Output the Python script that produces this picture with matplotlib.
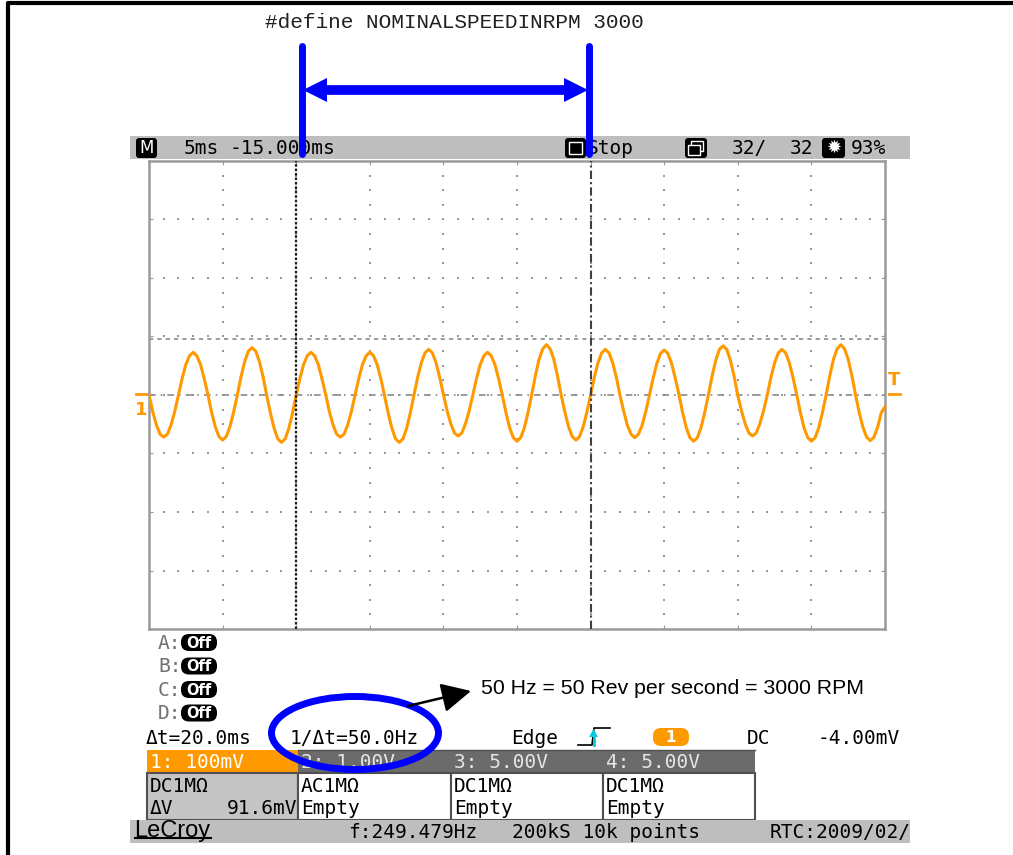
import matplotlib.pyplot as plt
import numpy as np
from matplotlib.patches import Rectangle, FancyBboxPatch, Ellipse, Polygon

# channel 1 trace in mV, one reading every 0.25 ms across the 50 ms screen
ch1_mv = [
    0, -28, -51, -67, -72, -67, -51, -28,
    0, 28, 52, 67, 73, 67, 52, 28,
    1, -29, -54, -71, -77, -71, -54, -29,
    0, 31, 57, 75, 81, 75, 57, 31,
    -1, -31, -57, -75, -81, -75, -57, -31,
    0, 28, 52, 67, 73, 67, 52, 28,
    1, -28, -51, -67, -72, -67, -51, -28,
    0, 28, 52, 67, 73, 67, 52, 28,
    -1, -31, -57, -75, -81, -75, -57, -31,
    0, 30, 55, 72, 78, 72, 55, 30,
    1, -27, -49, -65, -70, -65, -49, -27,
    0, 28, 52, 67, 73, 67, 52, 28,
    0, -30, -56, -73, -79, -73, -56, -30,
    1, 33, 61, 79, 86, 79, 61, 33,
    0, -29, -54, -71, -77, -71, -54, -29,
    0, 30, 55, 72, 78, 72, 55, 30,
    -1, -28, -52, -67, -73, -67, -52, -28,
    0, 29, 54, 71, 77, 71, 54, 29,
    1, -30, -56, -73, -79, -73, -56, -30,
    0, 32, 59, 78, 84, 78, 59, 32,
    -1, -27, -49, -65, -70, -65, -49, -27,
    0, 30, 55, 72, 78, 72, 55, 30,
    1, -30, -56, -73, -79, -73, -56, -30,
    0, 33, 61, 79, 86, 79, 61, 33,
    0, -30, -55, -72, -78, -72, -55, -30,
    -20,
]
t_ms = np.linspace(0, 50, len(ch1_mv))

cursor_t = [10, 30]      # ms
cursor_v = [0, 95]       # mV

ch_names = ['1: 100mV', '2: 1.00V', '3: 5.00V', '4: 5.00V']
ch_coupling = ['DC1MΩ', 'AC1MΩ', 'DC1MΩ', 'DC1MΩ']
ch_info = ['ΔV', 'Empty', 'Empty', 'Empty']
ch1_delta_v = '91.6mV'
math_slots = ['A', 'B', 'C', 'D']

title = '#define NOMINALSPEEDINRPM 3000'
note = '50 Hz = 50 Rev per second = 3000 RPM'

ORANGE = '#FF9900'
BLUE = '#0000FF'
BAR = '#BEBEBE'
DARK = '#6B6B6B'
MONO = 'DejaVu Sans Mono'

W, H = 1013, 855
fig = plt.figure(figsize=(W / 100, H / 100), dpi=100)
bg = fig.add_axes([0, 0, 1, 1])
bg.set_xlim(0, W)
bg.set_ylim(H, 0)
bg.axis('off')


def txt(x, y, s, size=14, color='black', ha='left', family=MONO, **kw):
    return bg.text(x, y, s, fontsize=size, color=color, ha=ha, va='center',
                   family=family, zorder=5, **kw)


def box(x0, y0, x1, y1, fc, ec='none', lw=0, z=2):
    r = Rectangle((x0, y0), x1 - x0, y1 - y0, fc=fc, ec=ec, lw=lw, zorder=z)
    bg.add_patch(r)
    return r


def pill(x0, y0, x1, y1, fc, r=6, z=3):
    bg.add_patch(FancyBboxPatch((x0, y0), x1 - x0, y1 - y0,
                                boxstyle=f'round,pad=0,rounding_size={r}',
                                fc=fc, ec='none', zorder=z))


# page frame (left and top only)
bg.plot([8, 8, W], [H, 3, 3], color='black', lw=3, zorder=1)

# header bar
box(130, 136, 910, 159, BAR)
pill(136, 138, 157, 158, 'black', r=3)
txt(146.5, 148, 'M', size=12, color='white', ha='center', family='DejaVu Sans')
txt(184, 148, '5ms')
txt(230, 148, '-15.000ms')
pill(565, 138, 586, 158, 'black', r=3)
box(569, 142, 582, 154, 'none', ec='white', lw=1, z=4)
txt(587, 148, 'Stop')
pill(685, 138, 707, 158, 'black', r=3)
box(691, 141, 703, 151, 'none', ec='white', lw=1, z=4)
box(688, 145, 700, 155, 'black', ec='white', lw=1, z=4)
txt(732, 148, '32/')
txt(813, 148, '32', ha='right')
pill(822, 138, 845, 158, 'black', r=3)
txt(833.5, 148, '✹', size=13, color='white', ha='center', family='DejaVu Sans')
txt(851, 148, '93%')

# scope screen
sc = fig.add_axes([149 / W, 1 - 629 / H, (885 - 149) / W, (629 - 161) / H])
sc.set_xlim(0, 50)
sc.set_ylim(-400, 400)
sc.set_xticks(np.arange(0, 51, 5))
sc.set_yticks(np.arange(-400, 401, 100))
sc.tick_params(direction='in', length=3, color='#9a9a9a', top=True, right=True,
               labelbottom=False, labelleft=False)
for s in sc.spines.values():
    s.set_color('#9a9a9a')
    s.set_linewidth(1.8)

dot_t = np.arange(0, 50.01, 1)
dot_v = np.arange(-400, 400.1, 25)
for v in range(-300, 301, 100):
    sc.scatter(dot_t, np.full(dot_t.size, v), s=1.8, marker='s', color='#999999',
               lw=0, zorder=1)
for tt in range(5, 50, 5):
    sc.scatter(np.full(dot_v.size, tt), dot_v, s=1.8, marker='s', color='#999999',
               lw=0, zorder=1)

sc.axhline(cursor_v[0], color='#8a8a8a', lw=1.2, ls=(0, (4, 3, 1, 3)), zorder=2)
sc.axhline(cursor_v[1], color='#8a8a8a', lw=1.2, ls=(0, (2.5, 2.5)), zorder=2)
sc.plot(t_ms, ch1_mv, color=ORANGE, lw=2.2, solid_joinstyle='round', zorder=3)
sc.axvline(cursor_t[0], color='#202020', lw=1.6, ls=(0, (1.2, 0.8)), zorder=4)
sc.axvline(cursor_t[1], color='#404040', lw=1.5, ls=(0, (4, 1.5, 1, 1.5)), zorder=4)

# trigger / channel markers
bg.add_patch(Polygon([[292, 163], [301, 163], [296.5, 169]], closed=True,
                     fc=ORANGE, ec='none', zorder=6))
bg.plot([136, 147], [394, 394], color=ORANGE, lw=2, zorder=5)
txt(141, 410, '1', size=13, color=ORANGE, ha='center', family='DejaVu Sans',
    weight='bold')
bg.plot([889, 900], [394, 394], color=ORANGE, lw=2, zorder=5)
txt(894.5, 380, 'T', size=13, color=ORANGE, ha='center', family='DejaVu Sans',
    weight='bold')

# math slots
for i, name in enumerate(math_slots):
    y = 643 + i * 23.5
    txt(158, y, name + ':', color='#707070')
    pill(181, y - 9, 217, y + 8, 'black', r=8)
    txt(199, y, 'Off', size=10.5, color='white', ha='center', family='DejaVu Sans',
        weight='bold')

# measurement row
txt(146, 738, 'Δt=20.0ms')
txt(290, 738, '1/Δt=50.0Hz')
txt(511, 738, 'Edge')
bg.plot([578, 592, 594, 610], [745, 745, 728, 728], color='black', lw=1.2, zorder=5)
bg.add_patch(Polygon([[589, 737], [598, 737], [593.5, 729]], closed=True,
                     fc='#00CCDD', ec='none', zorder=6))
bg.plot([593.5, 593.5], [736, 745], color='#00CCDD', lw=2, zorder=6)
pill(653, 728, 689, 746, ORANGE, r=8)
txt(671, 737, '1', size=11, color='white', ha='center', family='DejaVu Sans',
    weight='bold')
txt(747, 738, 'DC')
txt(900, 738, '-4.00mV', ha='right')

# channel table
cols = [147, 298, 451, 603, 755]
for i in range(4):
    x0, x1 = cols[i], cols[i + 1]
    box(x0, 750, x1, 773, ORANGE if i == 0 else DARK)
    txt(x0 + 3, 762, ch_names[i], color='white' if i == 0 else '#e6e6e6')
    box(x0, 773, x1, 820, '#C4C4C4' if i == 0 else 'white',
        ec='#505050', lw=1.5)
    txt(x0 + 3, 786, ch_coupling[i])
    txt(x0 + 3, 808, ch_info[i])
txt(297, 808, ch1_delta_v, ha='right')
bg.plot([cols[1], cols[4]], [750, 750], color='#505050', lw=1, zorder=3)

# bottom status bar
bar = box(130, 820, 910, 843, BAR)
txt(134, 831, 'LeCroy', size=17, family='Liberation Sans')
bg.plot([135, 211], [838, 838], color='black', lw=1.5, zorder=5)
txt(348, 832, 'f:249.479Hz')
txt(512, 832, '200kS 10k points')
rtc = txt(770, 832, 'RTC:2009/02/')
rtc.set_clip_path(bar)

# blue annotations
for x in (302, 589):
    bg.plot([x, x], [46, 154], color=BLUE, lw=5, solid_capstyle='round', zorder=8)
bg.plot([318, 573], [90, 90], color=BLUE, lw=7, zorder=8)
bg.add_patch(Polygon([[303, 90], [327, 78], [327, 102]], closed=True,
                     fc=BLUE, ec='none', zorder=8))
bg.add_patch(Polygon([[588, 90], [564, 78], [564, 102]], closed=True,
                     fc=BLUE, ec='none', zorder=8))
txt(454, 23, title, size=15.2, color='#202020', ha='center', family='Liberation Mono')
bg.add_patch(Ellipse((355, 733), 167, 73, fill=False, ec=BLUE, lw=5, zorder=8))
bg.annotate('', xy=(471, 691), xytext=(408, 706),
            arrowprops=dict(arrowstyle='-|>,head_length=0.9,head_width=0.45',
                            lw=1.8, color='black', mutation_scale=20,
                            shrinkA=0, shrinkB=0), zorder=8)
txt(481, 688, note, size=15.3, family='Liberation Sans')

fig.savefig('out.png', dpi=100)
